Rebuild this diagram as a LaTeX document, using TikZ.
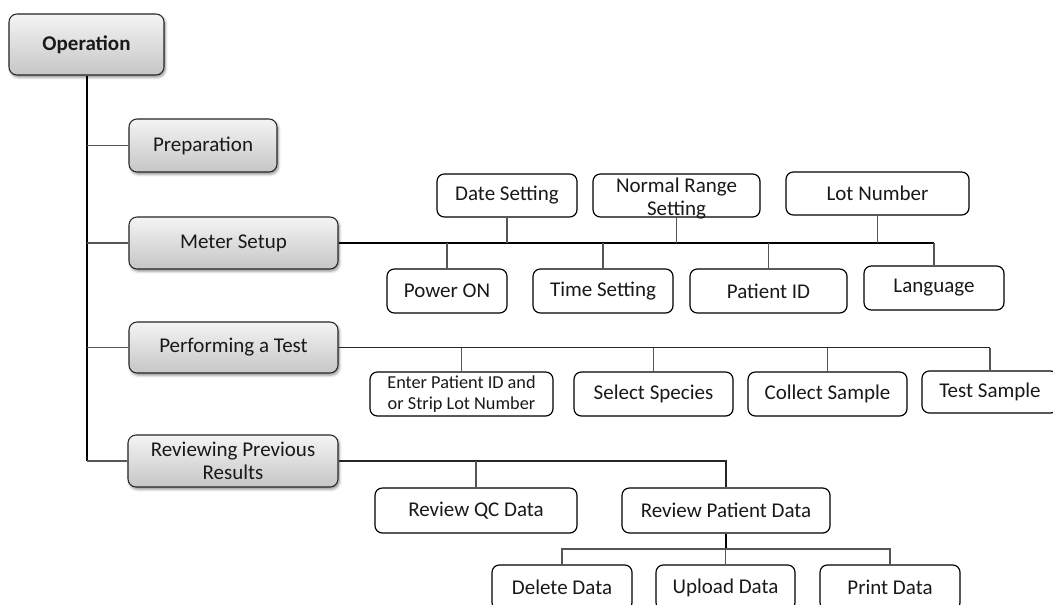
\documentclass[tikz,border=0pt]{standalone}
\usepackage{fontspec}
\setmainfont{Carlito}
\usetikzlibrary{shadows.blur}

\definecolor{shadetop}{HTML}{F4F4F4}
\definecolor{shadebot}{HTML}{C6C6C6}
\definecolor{wire}{HTML}{555555}

\tikzset{
  basefont/.style={font=\fontsize{15.75}{17.25}\selectfont, text=black!90},
  gbox/.style={basefont, draw=black!85, line width=0.8pt, rounded corners=6pt,
    top color=shadetop, bottom color=shadebot, inner sep=0pt, align=center,
    blur shadow={shadow xshift=1pt, shadow yshift=-1.6pt, shadow blur radius=2pt, shadow opacity=45}},
  wbox/.style={basefont, draw=black, line width=0.9pt, rounded corners=5.5pt,
    fill=white, inner sep=0pt, align=center},
  spine/.style={draw=black, line width=1.5pt},
  bus/.style={draw=black, line width=1.5pt},
  busthin/.style={draw=black!85, line width=1.1pt},
  branch/.style={draw=wire, line width=0.8pt},
}

% box from its corners (pixel grid): [style]{name}{x1}{y1}{x2}{y2}{text}
\newcommand\bx[7][wbox]{%
  \node[#1, minimum width={((#5)-(#3))*0.75pt}, minimum height={((#6)-(#4))*0.75pt}]
    (#2) at ({((#3)+(#5))/2},{((#4)+(#6))/2}) {#7};}

\begin{document}
\begin{tikzpicture}[x=0.75pt, y=-0.75pt]
\useasboundingbox (0,0) rectangle (1053,604);
\clip (0,0) rectangle (1053,604);

% main column
\bx[gbox]{op}{9}{14}{164}{75}{\bfseries Operation}
\bx[gbox]{prep}{129}{119}{277}{172}{Preparation}
\bx[gbox]{meter}{129}{217}{338}{269}{Meter Setup}
\bx[gbox]{perf}{129}{322}{338}{373}{Performing a Test}
\bx[gbox]{rev}{128}{435}{338}{487}{Reviewing Previous\\Results}

% meter setup items
\bx{date}{437}{174}{577}{217}{Date Setting}
\node[wbox, minimum width={167*0.75pt}, minimum height={43*0.75pt},
  label={[basefont, align=center, yshift=-2.5pt]center:Normal Range\\Setting}]
  (norm) at (676.5,195.5) {};
\bx{lot}{786}{172}{969}{215}{Lot Number}
\bx{pow}{387}{269}{507}{313}{Power ON}
\bx{time}{533}{269}{673}{313}{Time Setting}
\bx{pid}{690}{269}{847}{313}{Patient ID}
\bx{lang}{864}{266}{1004}{310}{Language}

% test items
\bx[wbox, font=\fontsize{13.7}{15.9}\selectfont]{enter}{370}{372}{553}{416}{Enter Patient ID and\\or Strip Lot Number}
\bx{sel}{574}{372}{733}{416}{Select Species}
\bx{coll}{748}{372}{907}{416}{Collect Sample}
\bx{test}{922}{371}{1058}{413}{Test Sample}

% review items
\bx{qc}{375}{488}{577}{533}{Review QC Data}
\bx{rpd}{622}{488}{830}{533}{Review Patient Data}
\bx{del}{492}{565}{632}{610}{Delete Data}
\bx{up}{656}{565}{795}{610}{Upload Data}
\bx{print}{820}{565}{960}{610}{Print Data}

% spine and its branches
\draw[spine] (op.south) -- (op.south |- rev.west);
\foreach \n in {prep,meter,perf,rev}
  \draw[branch] (op.south |- \n.west) -- (\n.west);

% meter setup bus
\draw[bus] (meter.east) -- (meter.east -| lang.north);
\foreach \n in {date,norm,lot}
  \draw[branch] (\n.south) -- (\n.south |- meter.east);
\foreach \n in {pow,time,pid,lang}
  \draw[branch] (\n.north) -- (\n.north |- meter.east);

% performing a test bus
\draw[busthin] (perf.east) -- (perf.east -| test.north);
\foreach \n in {enter,sel,coll,test}
  \draw[branch] (\n.north) -- (\n.north |- perf.east);

% reviewing bus
\draw[branch, draw=black!85] (rev.east) -- (rev.east -| rpd.north) -- (rpd.north);
\draw[branch] (qc.north) -- (qc.north |- rev.east);

% patient data sub-items
\coordinate (rj) at (726,549);
\draw[branch, draw=black] (rpd.south) -- (rpd.south |- rj);
\draw[branch] (del.north) -- (del.north |- rj) -- (print.north |- rj) -- (print.north);
\draw[branch] (up.north) -- (up.north |- rj);
\end{tikzpicture}
\end{document}
